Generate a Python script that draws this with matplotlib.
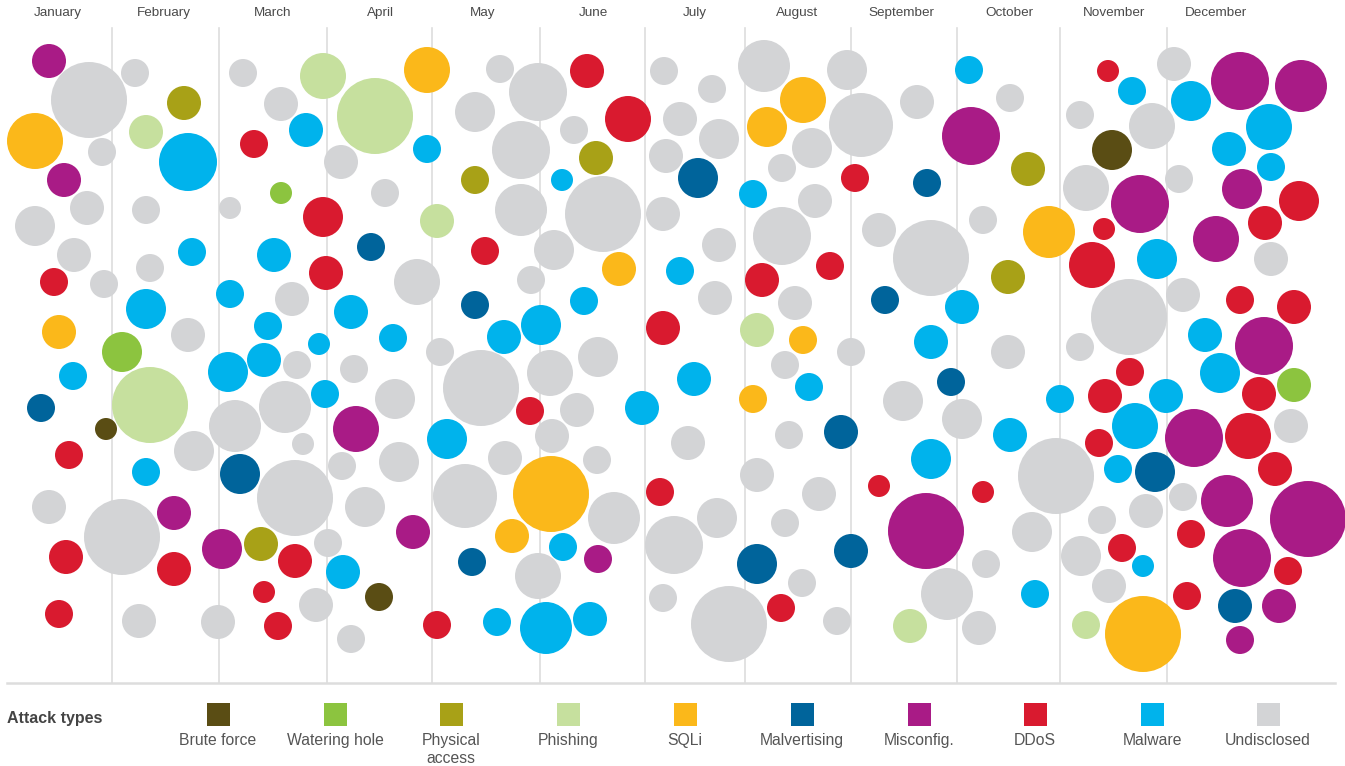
import matplotlib
matplotlib.use("Agg")
import matplotlib.pyplot as plt
from matplotlib.patches import Circle, Rectangle

plt.rcParams['font.family'] = ['Liberation Sans', 'DejaVu Sans']

W, H = 1345, 766

months = ["January", "February", "March", "April", "May", "June", "July",
          "August", "September", "October", "November", "December"]
month_label_x = [58, 164, 273, 380, 483, 593, 695, 797, 901, 1009, 1114, 1216]
month_edges = [112, 219, 327, 432, 540, 645, 745, 851, 957, 1060, 1167]

attack_types = ["Brute force", "Watering hole", "Physical\naccess", "Phishing", "SQLi",
                "Malvertising", "Misconfig.", "DDoS", "Malware", "Undisclosed"]
type_codes = ["B", "W", "P", "H", "S", "V", "M", "D", "A", "U"]
type_colors = ["#5a4d14", "#8cc43f", "#a8a117", "#c6e09e", "#fbb81a",
               "#00649b", "#a91b86", "#d91a2f", "#00b3ec", "#d3d4d6"]
color_of = dict(zip(type_codes, type_colors))

# bubbles: (x, y, radius, attack type) in layout units
jan = [(49, 61, 17, "M"), (89, 100, 38, "U"), (35, 141, 28, "S"), (102, 152, 14, "U"),
       (64, 180, 17, "M"), (87, 208, 17, "U"), (35, 226, 20, "U"), (74, 255, 17, "U"),
       (54, 282, 14, "D"), (104, 284, 14, "U"), (59, 332, 17, "S"), (73, 376, 14, "A"),
       (41, 408, 14, "V"), (106, 429, 11, "B"), (69, 455, 14, "D"), (49, 507, 17, "U"),
       (66, 557, 17, "D"), (59, 614, 14, "D"), (122, 352, 20, "W"), (150, 405, 38, "H"),
       (122, 537, 38, "U")]
feb = [(135, 73, 14, "U"), (184, 103, 17, "P"), (146, 132, 17, "H"), (188, 162, 29, "A"),
       (146, 210, 14, "U"), (192, 252, 14, "A"), (150, 268, 14, "U"), (146, 309, 20, "A"),
       (188, 335, 17, "U"), (146, 472, 14, "A"), (194, 451, 20, "U"), (174, 513, 17, "M"),
       (174, 569, 17, "D"), (139, 621, 17, "U"), (230, 208, 11, "U"), (230, 294, 14, "A"),
       (228, 372, 20, "A"), (222, 549, 20, "M"), (218, 622, 17, "U")]
mar = [(243, 73, 14, "U"), (281, 104, 17, "U"), (306, 130, 17, "A"), (254, 144, 14, "D"),
       (323, 76, 23, "H"), (281, 193, 11, "W"), (323, 217, 20, "D"), (274, 255, 17, "A"),
       (326, 273, 17, "D"), (292, 299, 17, "U"), (268, 326, 14, "A"), (319, 344, 11, "A"),
       (264, 360, 17, "A"), (297, 365, 14, "U"), (325, 394, 14, "A"), (235, 426, 26, "U"),
       (285, 407, 26, "U"), (303, 444, 11, "U"), (240, 474, 20, "V"), (295, 498, 38, "U"),
       (261, 544, 17, "P"), (295, 561, 17, "D"), (264, 592, 11, "D"), (278, 626, 14, "D"),
       (316, 605, 17, "U"), (328, 543, 14, "U")]
apr = [(375, 116, 38, "H"), (427, 70, 23, "S"), (427, 149, 14, "A"), (341, 162, 17, "U"),
       (385, 193, 14, "U"), (437, 221, 17, "H"), (371, 247, 14, "V"), (417, 282, 23, "U"),
       (351, 312, 17, "A"), (393, 338, 14, "A"), (354, 369, 14, "U"), (395, 399, 20, "U"),
       (356, 429, 23, "M"), (342, 466, 14, "U"), (399, 462, 20, "U"), (365, 507, 20, "U"),
       (413, 532, 17, "M"), (343, 572, 17, "A"), (379, 597, 14, "B"), (351, 639, 14, "U")]
may = [(440, 352, 14, "U"), (481, 388, 38, "U"), (447, 439, 20, "A"), (465, 496, 32, "U"),
       (472, 562, 14, "V"), (437, 625, 14, "D"), (497, 622, 14, "A"), (500, 69, 14, "U"),
       (538, 92, 29, "U"), (475, 112, 20, "U"), (521, 150, 29, "U"), (475, 180, 14, "P"),
       (521, 210, 26, "U"), (485, 251, 14, "D"), (475, 305, 14, "V"), (504, 337, 17, "A"),
       (531, 280, 14, "U"), (541, 325, 20, "A"), (554, 250, 20, "U"), (550, 373, 23, "U"),
       (530, 411, 14, "D"), (505, 458, 17, "U"), (512, 536, 17, "S"), (538, 576, 23, "U"),
       (546, 628, 26, "A"), (552, 436, 17, "U")]
jun = [(587, 71, 17, "D"), (628, 119, 23, "D"), (574, 130, 14, "U"), (596, 158, 17, "P"),
       (562, 180, 11, "A"), (603, 214, 38, "U"), (619, 269, 17, "S"), (584, 301, 14, "A"),
       (598, 357, 20, "U"), (577, 410, 17, "U"), (597, 460, 14, "U"), (551, 494, 38, "S"),
       (614, 518, 26, "U"), (563, 547, 14, "A"), (598, 559, 14, "M"), (590, 619, 17, "A"),
       (642, 408, 17, "A")]
jul = [(664, 71, 14, "U"), (712, 89, 14, "U"), (680, 119, 17, "U"), (719, 139, 20, "U"),
       (666, 156, 17, "U"), (698, 178, 20, "V"), (663, 214, 17, "U"), (719, 245, 17, "U"),
       (680, 271, 14, "A"), (715, 298, 17, "U"), (663, 328, 17, "D"), (694, 379, 17, "A"),
       (688, 443, 17, "U"), (660, 492, 14, "D"), (717, 518, 20, "U"), (674, 545, 29, "U"),
       (663, 598, 14, "U"), (729, 624, 38, "U")]
aug = [(764, 66, 26, "U"), (803, 100, 23, "S"), (767, 127, 20, "S"), (812, 148, 20, "U"),
       (782, 168, 14, "U"), (753, 194, 14, "A"), (815, 201, 17, "U"), (782, 236, 29, "U"),
       (762, 280, 17, "D"), (830, 266, 14, "D"), (795, 303, 17, "U"), (757, 330, 17, "H"),
       (803, 340, 14, "S"), (785, 365, 14, "U"), (809, 387, 14, "A"), (753, 399, 14, "S"),
       (789, 435, 14, "U"), (841, 432, 17, "V"), (757, 475, 17, "U"), (819, 494, 17, "U"),
       (785, 523, 14, "U"), (757, 564, 20, "V"), (802, 583, 14, "U"), (781, 608, 14, "D"),
       (837, 621, 14, "U"), (851, 352, 14, "U"), (855, 178, 14, "D"), (847, 70, 20, "U"),
       (861, 125, 32, "U"), (879, 486, 11, "D"), (851, 551, 17, "V")]
sep = [(917, 102, 17, "U"), (927, 183, 14, "V"), (879, 230, 17, "U"), (931, 258, 38, "U"),
       (885, 300, 14, "V"), (962, 307, 17, "A"), (931, 342, 17, "A"), (903, 401, 20, "U"),
       (951, 382, 14, "V"), (962, 419, 20, "U"), (931, 459, 20, "A"), (926, 531, 38, "M"),
       (947, 594, 26, "U"), (910, 626, 17, "H"), (979, 628, 17, "U"), (986, 564, 14, "U"),
       (983, 492, 11, "D"), (969, 70, 14, "A"), (971, 136, 29, "M"), (983, 220, 14, "U")]
octo = [(1010, 98, 14, "U"), (1028, 169, 17, "P"), (1049, 232, 26, "S"), (1008, 277, 17, "P"),
        (1008, 352, 17, "U"), (1010, 435, 17, "A"), (1056, 476, 38, "U"), (1032, 532, 20, "U"),
        (1035, 594, 14, "A"), (1060, 399, 14, "A"), (1080, 347, 14, "U")]
nov = [(1108, 71, 11, "D"), (1132, 91, 14, "A"), (1080, 115, 14, "U"), (1152, 126, 23, "U"),
       (1112, 150, 20, "B"), (1086, 188, 23, "U"), (1140, 204, 29, "M"), (1104, 229, 11, "D"),
       (1092, 265, 23, "D"), (1157, 259, 20, "A"), (1129, 317, 38, "U"), (1130, 372, 14, "D"),
       (1105, 396, 17, "D"), (1135, 426, 23, "A"), (1099, 443, 14, "D"), (1118, 469, 14, "A"),
       (1155, 472, 20, "V"), (1166, 396, 17, "A"), (1102, 520, 14, "U"), (1146, 511, 17, "U"),
       (1081, 556, 20, "U"), (1122, 548, 14, "D"), (1143, 566, 11, "A"), (1109, 586, 17, "U"),
       (1086, 625, 14, "H"), (1143, 634, 38, "S")]
dec = [(1174, 64, 17, "U"), (1191, 101, 20, "A"), (1240, 81, 29, "M"), (1301, 86, 26, "M"),
       (1269, 127, 23, "A"), (1229, 149, 17, "A"), (1271, 167, 14, "A"), (1179, 179, 14, "U"),
       (1242, 189, 20, "M"), (1299, 201, 20, "D"), (1265, 223, 17, "D"), (1216, 239, 23, "M"),
       (1271, 259, 17, "U"), (1183, 295, 17, "U"), (1240, 300, 14, "D"), (1294, 307, 17, "D"),
       (1205, 335, 17, "A"), (1264, 346, 29, "M"), (1220, 373, 20, "A"), (1259, 394, 17, "D"),
       (1294, 385, 17, "W"), (1194, 438, 29, "M"), (1248, 436, 23, "D"), (1291, 426, 17, "U"),
       (1275, 469, 17, "D"), (1183, 497, 14, "U"), (1227, 501, 26, "M"), (1308, 519, 38, "M"),
       (1191, 534, 14, "D"), (1242, 558, 29, "M"), (1288, 571, 14, "D"), (1187, 596, 14, "D"),
       (1235, 606, 17, "V"), (1279, 606, 17, "M"), (1240, 640, 14, "M")]

legend_x = [218, 335, 451, 568, 685, 802, 919, 1035, 1152, 1268]

fig = plt.figure(figsize=(W / 100, H / 100), dpi=100)
ax = fig.add_axes([0, 0, 1, 1])
ax.set_xlim(0, W)
ax.set_ylim(H, 0)
ax.axis('off')

# month separators and baseline
for x in month_edges:
    ax.plot([x, x], [28, 683], color="#dddddd", lw=1.2, zorder=1)
ax.plot([7, 1335], [683, 683], color="#dddddd", lw=1.8, zorder=1)

for name, x in zip(months, month_label_x):
    ax.text(x, 13, name, ha="center", va="center", fontsize=9.7, color="#4a4a4a")

# bubbles
for group in [jan, feb, mar, apr, may, jun, jul, aug, sep, octo, nov, dec]:
    for x, y, r, kind in group:
        ax.add_patch(Circle((x, y), r, facecolor=color_of[kind], edgecolor="none", zorder=2))

# legend
ax.text(7, 718, "Attack types", ha="left", va="center", fontsize=11.5,
        fontweight="bold", color="#444444")
for label, col, x in zip(attack_types, type_colors, legend_x):
    ax.add_patch(Rectangle((x - 11.5, 703), 23, 23, facecolor=col, edgecolor="none"))
    ax.text(x, 733, label, ha="center", va="top", fontsize=11.3, color="#555555",
            linespacing=1.25)

fig.savefig("out.png", dpi=100)
